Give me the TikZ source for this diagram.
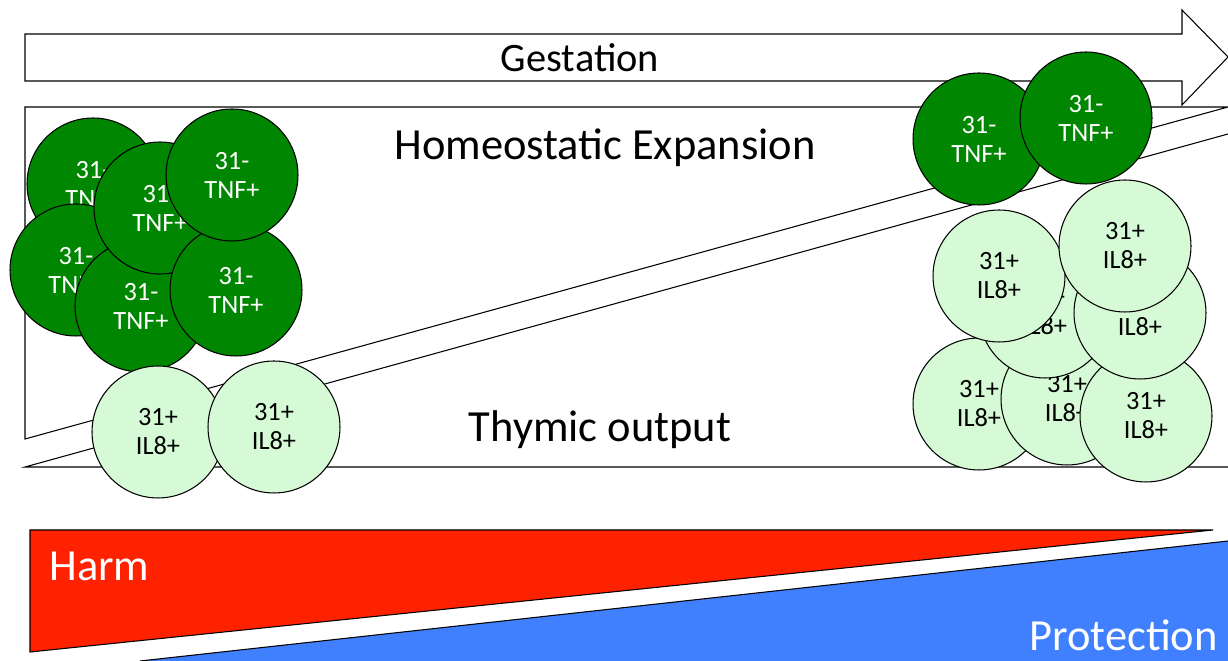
\documentclass[tikz,border=0pt]{standalone}
\usepackage{fontspec}
\setmainfont{Carlito}
\definecolor{dkgreen}{RGB}{0,134,0}
\definecolor{ltgreen}{RGB}{213,250,213}
\definecolor{harmred}{RGB}{255,34,0}
\definecolor{protblue}{RGB}{64,128,255}
\begin{document}
\begin{tikzpicture}[x=0.02cm,y=-0.02cm,
  outline/.style={draw=black,line width=0.6pt,line join=miter},
  cell/.style={circle,draw=black,line width=0.6pt,minimum size=2.64cm,inner sep=0pt,align=center,
    font=\fontsize{15}{16.5}\selectfont},
  tcell/.style={cell,fill=dkgreen,text=white},
  pcell/.style={cell,fill=ltgreen,text=black},
  bigtext/.style={font=\fontsize{25.3}{30}\selectfont,inner sep=0pt}]
\useasboundingbox (0,0) rectangle (1228,661);
% gestation arrow
\draw[outline,fill=white] (25,34) -- (1182,34) -- (1182,10) -- (1228,57) -- (1182,105) -- (1182,81) -- (25,81) -- cycle;
\node[bigtext,font=\fontsize{23}{28}\selectfont] (gest) at (580,58) {Gestation};
% homeostatic expansion wedge
\draw[outline,fill=white] (25,107) -- (1228,107) -- (25,439) -- cycle;
% thymic output wedge
\draw[outline,fill=white] (1228,467) -- (25,467) -- (1228,134);
\node[bigtext] (homeo) at (605,148) {Homeostatic Expansion};
\node[bigtext] (thymic) at (600,430) {Thymic output};
% left dark cluster
\node[tcell] (a) at (93,184) {31-\\TNF+};
\node[tcell] (d) at (76,270) {31-\\TNF+};
\node[tcell] (e) at (141,306) {31-\\TNF+};
\node[tcell] (b) at (160,208) {31-\\TNF+};
\node[tcell] (f) at (236,290) {31-\\TNF+};
\node[tcell] (c) at (232,175) {31-\\TNF+};
% left light cluster
\node[pcell] (g1) at (158,432) {31+\\IL8+};
\node[pcell] (g2) at (274,427) {31+\\IL8+};
% right dark
\node[tcell] (r1) at (979,139) {31-\\TNF+};
\node[tcell] (r2) at (1086,118) {31-\\TNF+};
% right light cluster
\node[pcell] (l5) at (979,404) {31+\\IL8+};
\node[pcell] (l6) at (1067,399) {31+\\IL8+};
\node[pcell] (l7) at (1146,416) {31+\\IL8+};
\node[pcell] (l2) at (1045,312) {31+\\IL8+};
\node[pcell] (l3) at (1140,313) {31+\\IL8+};
\node[pcell] (l1) at (999,276) {31+\\IL8+};
\node[pcell] (l4) at (1125,246) {31+\\IL8+};
% harm / protection
\draw[outline,fill=harmred] (30,530) -- (1213,530) -- (30,652) -- cycle;
\fill[protblue] (140,661) -- (1228,541) -- (1228,661) -- cycle;
\draw[line width=0.6pt] (140,661) -- (1228,541);
\node[bigtext,text=white,anchor=west] (harm) at (49,566) {Harm};
\node[bigtext,text=white,anchor=east] (prot) at (1218,635) {Protection};
\end{tikzpicture}
\end{document}
